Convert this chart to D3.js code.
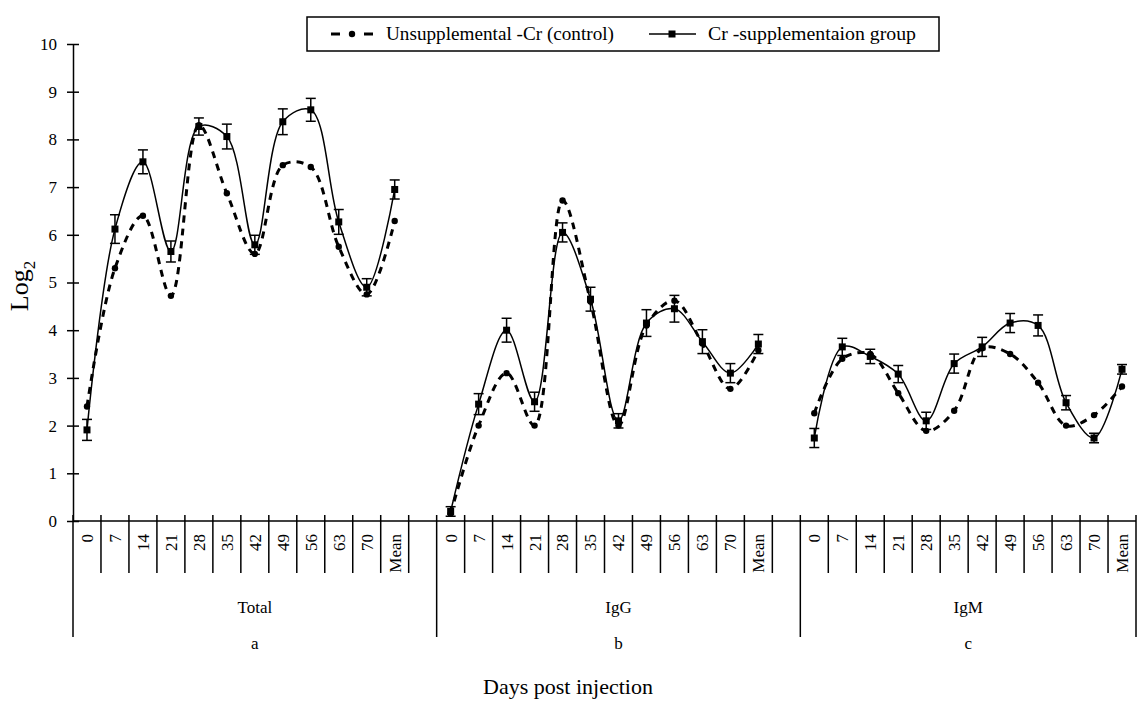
<!DOCTYPE html>
<html>
<head>
<meta charset="utf-8">
<script src="https://cdn.jsdelivr.net/npm/d3@7"></script>
<style>
  body { margin: 0; background: #fff; }
  text { font-family: "Liberation Serif", "Times New Roman", serif; fill: #000; }
</style>
</head>
<body>
<script>
// data
var groups = ["Total", "IgG", "IgM"];
var groupLetters = ["a", "b", "c"];
var days = ["0", "7", "14", "21", "28", "35", "42", "49", "56", "63", "70", "Mean"];
var yTicks = [0, 1, 2, 3, 4, 5, 6, 7, 8, 9, 10];

var controlTotal = [2.4, 5.3, 6.4, 4.72, 8.3, 6.87, 5.6, 7.46, 7.42, 5.75, 4.75, 6.29];
var crTotal      = [1.91, 6.12, 7.53, 5.65, 8.27, 8.06, 5.79, 8.37, 8.62, 6.27, 4.9, 6.95];
var crTotalErr   = [0.22, 0.3, 0.25, 0.22, 0.18, 0.26, 0.2, 0.27, 0.24, 0.26, 0.18, 0.2];

var controlIgG = [0.15, 2.0, 3.1, 2.0, 6.72, 4.6, 2.0, 4.1, 4.62, 3.72, 2.77, 3.58];
var crIgG      = [0.2, 2.45, 4.0, 2.5, 6.05, 4.65, 2.1, 4.15, 4.45, 3.76, 3.1, 3.71];
var crIgGErr   = [0.1, 0.22, 0.25, 0.2, 0.2, 0.25, 0.15, 0.28, 0.28, 0.25, 0.2, 0.2];

var controlIgM = [2.26, 3.4, 3.5, 2.68, 1.89, 2.31, 3.62, 3.5, 2.9, 2.0, 2.22, 2.82];
var crIgM      = [1.74, 3.65, 3.45, 3.08, 2.1, 3.3, 3.65, 4.15, 4.1, 2.48, 1.74, 3.18];
var crIgMErr   = [0.2, 0.18, 0.15, 0.18, 0.18, 0.2, 0.2, 0.2, 0.22, 0.15, 0.1, 0.1];

var controlSeries = [controlTotal, controlIgG, controlIgM];
var crSeries = [crTotal, crIgG, crIgM];
var crErrSeries = [crTotalErr, crIgGErr, crIgMErr];

var width = 1137, height = 707;
var svg = d3.select("body").append("svg").attr("width", width).attr("height", height);

// one slot per day, plus an empty slot between groups
var slots = [];
groups.forEach(function (g, gi) {
  days.forEach(function (d) { slots.push(g + "|" + d); });
  if (gi < groups.length - 1) slots.push(g + "|gap");
});

var x = d3.scaleBand().domain(slots).range([73, 1136]);
var y = d3.scaleLinear().domain([0, 10]).range([521, 44]);

// y axis
var yAxis = svg.append("g").attr("transform", "translate(73,0)")
  .call(d3.axisLeft(y).tickValues(yTicks).tickSize(6).tickPadding(10).tickSizeOuter(0));
yAxis.select(".domain").attr("stroke-width", 1.5);
yAxis.selectAll(".tick line").attr("x1", 6).attr("stroke-width", 1.5);
yAxis.selectAll(".tick text").style("font-size", "17px").style("font-family", "Liberation Serif");

// x axis line and slot boundaries
svg.append("line").attr("x1", 73).attr("x2", 1136).attr("y1", 521).attr("y2", 521)
  .attr("stroke", "#000").attr("stroke-width", 1.5);

var bounds = slots.map(function (s, i) {
  var isGroupStart = i === 0 || slots[i - 1].indexOf("|gap") > 0;
  return { x: x(s), long: isGroupStart };
});
bounds.push({ x: x.range()[1], long: true });

svg.selectAll(".bound").data(bounds).enter().append("line")
  .attr("x1", function (d) { return d.x; }).attr("x2", function (d) { return d.x; })
  .attr("y1", 515).attr("y2", function (d) { return d.long ? 637 : 573; })
  .attr("stroke", "#000").attr("stroke-width", 1.5);

// day labels
var dayLabels = slots.filter(function (s) { return s.indexOf("|gap") < 0; });
svg.selectAll(".daylab").data(dayLabels).enter().append("text")
  .attr("transform", function (s) {
    return "translate(" + (x(s) + x.bandwidth() / 2) + ",534) rotate(-90)";
  })
  .attr("text-anchor", "end").attr("dy", "0.35em")
  .style("font-size", "17px")
  .text(function (s) { return s.split("|")[1]; });

// group labels
groups.forEach(function (g, gi) {
  var x0 = x(g + "|0");
  var x1 = gi < groups.length - 1 ? x(g + "|gap") + x.bandwidth() : x.range()[1];
  var cx = (x0 + x1) / 2;
  svg.append("text").attr("x", cx).attr("y", 613).attr("text-anchor", "middle")
    .style("font-size", "17px").text(g);
  svg.append("text").attr("x", cx).attr("y", 649).attr("text-anchor", "middle")
    .style("font-size", "17px").text(groupLetters[gi]);
});

// axis titles
svg.append("text").attr("x", 568).attr("y", 694).attr("text-anchor", "middle")
  .style("font-size", "22px").text("Days post injection");

var yt = svg.append("text").attr("transform", "translate(28,286) rotate(-90)")
  .attr("text-anchor", "middle").style("font-size", "26px");
yt.append("tspan").text("Log");
yt.append("tspan").attr("dy", 7).style("font-size", "17px").text("2");

// series
var line = d3.line()
  .x(function (d) { return x(d.slot) + x.bandwidth() / 2; })
  .y(function (d) { return y(d.v); })
  .curve(d3.curveCatmullRom.alpha(0.5));

groups.forEach(function (g, gi) {
  var ctrl = controlSeries[gi].map(function (v, i) { return { slot: g + "|" + days[i], v: v }; });
  var cr = crSeries[gi].map(function (v, i) {
    return { slot: g + "|" + days[i], v: v, e: crErrSeries[gi][i] };
  });

  svg.append("path").datum(ctrl).attr("d", line)
    .attr("fill", "none").attr("stroke", "#000").attr("stroke-width", 3)
    .attr("stroke-dasharray", "7,6");

  svg.append("path").datum(cr).attr("d", line)
    .attr("fill", "none").attr("stroke", "#000").attr("stroke-width", 1.5);

  var cx = function (d) { return x(d.slot) + x.bandwidth() / 2; };

  svg.selectAll(null).data(ctrl).enter().append("circle")
    .attr("cx", cx).attr("cy", function (d) { return y(d.v); })
    .attr("r", 3.2).attr("fill", "#000");

  var eb = svg.selectAll(null).data(cr).enter().append("g").attr("stroke", "#000").attr("stroke-width", 1.5);
  eb.append("line").attr("x1", cx).attr("x2", cx)
    .attr("y1", function (d) { return y(d.v + d.e); }).attr("y2", function (d) { return y(d.v - d.e); });
  eb.append("line").attr("x1", function (d) { return cx(d) - 5; }).attr("x2", function (d) { return cx(d) + 5; })
    .attr("y1", function (d) { return y(d.v + d.e); }).attr("y2", function (d) { return y(d.v + d.e); });
  eb.append("line").attr("x1", function (d) { return cx(d) - 5; }).attr("x2", function (d) { return cx(d) + 5; })
    .attr("y1", function (d) { return y(d.v - d.e); }).attr("y2", function (d) { return y(d.v - d.e); });

  svg.selectAll(null).data(cr).enter().append("rect")
    .attr("x", function (d) { return cx(d) - 3.5; }).attr("y", function (d) { return y(d.v) - 3.5; })
    .attr("width", 7).attr("height", 7).attr("fill", "#000");
});

// legend
var lg = svg.append("g");
lg.append("rect").attr("x", 307).attr("y", 17).attr("width", 632).attr("height", 34)
  .attr("fill", "#fff").attr("stroke", "#000").attr("stroke-width", 1.5);
lg.append("line").attr("x1", 331).attr("x2", 340).attr("y1", 34).attr("y2", 34)
  .attr("stroke", "#000").attr("stroke-width", 3);
lg.append("line").attr("x1", 364).attr("x2", 373).attr("y1", 34).attr("y2", 34)
  .attr("stroke", "#000").attr("stroke-width", 3);
lg.append("circle").attr("cx", 352).attr("cy", 34).attr("r", 3.2).attr("fill", "#000");
lg.append("text").attr("x", 386).attr("y", 34).attr("dy", "0.35em").style("font-size", "18px")
  .attr("textLength", 228).attr("lengthAdjust", "spacingAndGlyphs")
  .text("Unsupplemental -Cr (control)");
lg.append("line").attr("x1", 649).attr("x2", 696).attr("y1", 34).attr("y2", 34)
  .attr("stroke", "#000").attr("stroke-width", 1.5);
lg.append("rect").attr("x", 668.5).attr("y", 30.5).attr("width", 7).attr("height", 7).attr("fill", "#000");
lg.append("text").attr("x", 708).attr("y", 34).attr("dy", "0.35em").style("font-size", "18px")
  .attr("textLength", 208).attr("lengthAdjust", "spacingAndGlyphs")
  .text("Cr -supplementaion group");
</script>
</body>
</html>
